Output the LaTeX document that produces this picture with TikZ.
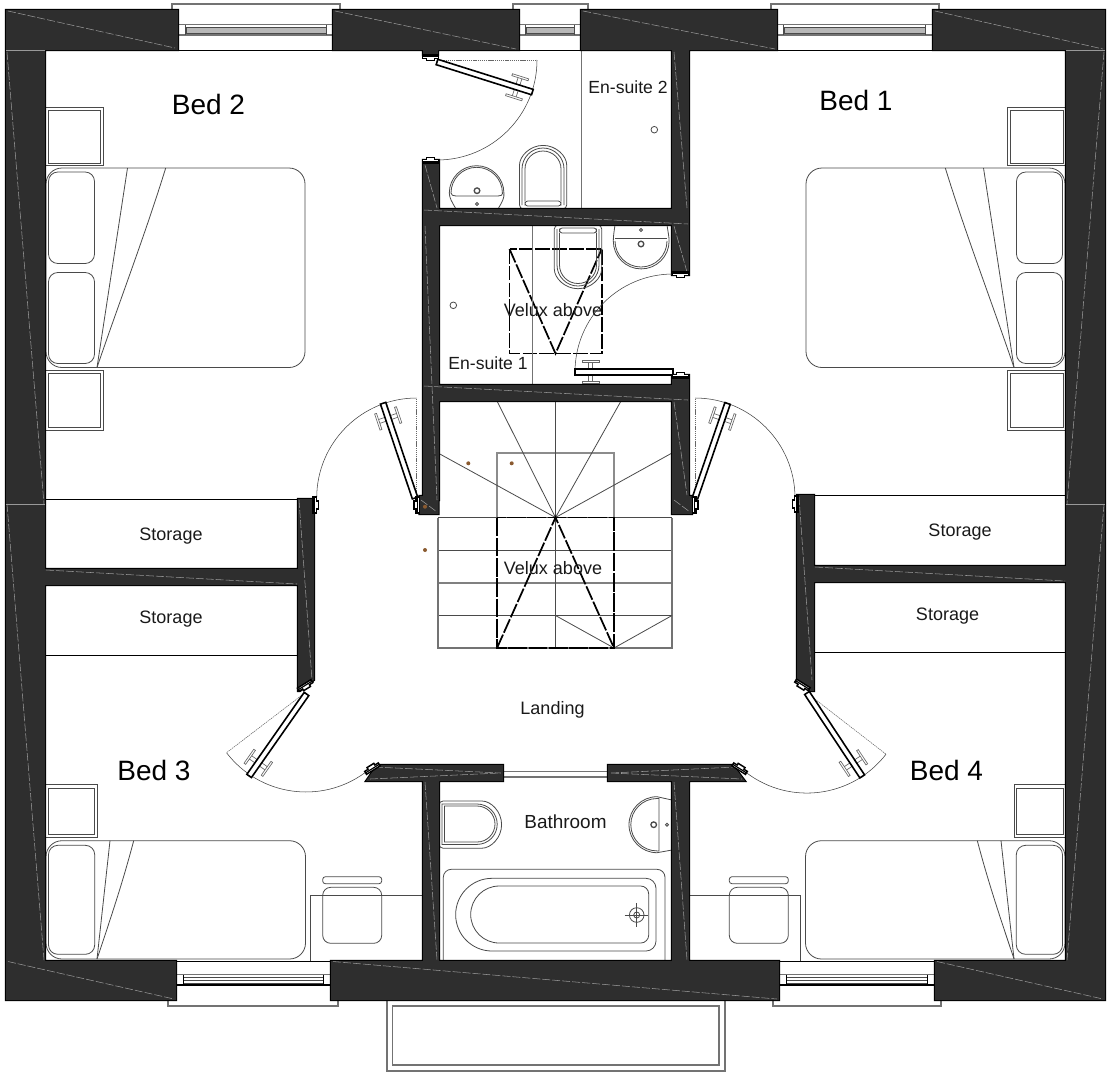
\documentclass[tikz,border=0pt]{standalone}
\usepackage{fontspec}
\setmainfont{Liberation Sans}
\definecolor{wallgrey}{HTML}{2E2E2E}
\definecolor{fixline}{HTML}{4A4A4A}
\definecolor{dotbrown}{HTML}{8A5A30}
\tikzset{every picture/.style={line width=0.75pt}}
\tikzset{
	fixture/.style={draw=fixline,line width=0.6},
	sillline/.style={draw=black!55,line width=0.8},
	seam/.style={draw=black!40,line width=0.4,dash pattern=on 6pt off 1.5pt},
	swing/.style={draw=black!75,line width=0.4},
	swingopen/.style={draw=black!60,line width=0.4,dash pattern=on 1pt off 0.6pt},
	velux/.style={draw=black,line width=1.3,dash pattern=on 11pt off 1.6pt},
	roomlabel/.style={font=\fontsize{21}{24}\selectfont,text=black},
	smalllabel/.style={font=\fontsize{13.5}{16}\selectfont,text=black!90},
	%door leaf drawn along +x from its hinge
	doorleaf/.pic={
		\draw [line width=0.5,draw=black!60,fill=white] (82,-9.5) rectangle (86,3) (75.5,-11.5) rectangle (92.5,-9.5) (82,3) rectangle (86,9.5) (75.5,9.5) rectangle (92.5,11.5);
		\draw [line width=1.2,fill=white] (0,-2.8) rectangle (100,2.8);
	},
	%door stop on a wall end
	jamb/.pic={
		\draw [line width=1.1,fill=white] (-8,-2.5) -- (8,-2.5) -- (8,1) -- (4,1) -- (4,3) -- (-4,3) -- (-4,1) -- (-8,1) -- cycle;
		\draw [line width=0.9] (-8,-0.7) -- (8,-0.7);
	},
	dblbed/.pic={
		\draw [fixture,rounded corners=12] (46,168) rectangle (305,367.5);
		\draw [fixture,rounded corners=7] (48.5,172) rectangle (94.5,263.5);
		\draw [fixture,rounded corners=7] (48.5,272.5) rectangle (94.5,363.5);
		\draw [fixture] (127.5,168) -- (97,367.5);
		\draw [fixture] (165.7,168) .. controls (145,235) and (120,300) .. (97,367.5);
		\draw [fixture] (45,107) rectangle (103.7,165.7);
		\draw [fixture] (48,110) rectangle (100.7,163);
		\draw [fixture] (45,370.5) rectangle (103.7,430);
		\draw [fixture] (48,373.5) rectangle (100.7,427);
	},
	sglbed/.pic={
		\draw [fixture] (310.7,961) -- (310.7,895.3) -- (422,895.3);
		\draw [fixture,rounded corners=12] (46,840.7) rectangle (305.5,959);
		\draw [fixture,rounded corners=7] (48.5,845.3) rectangle (94.7,954.3);
		\draw [fixture] (110,840.7) -- (97,959);
		\draw [fixture] (133.7,840.7) .. controls (122,885) and (110,920) .. (97,959);
		\draw [fixture] (45,784.7) rectangle (97,837.3);
		\draw [fixture] (48,788) rectangle (94.3,834);
		\draw [fixture,rounded corners=6] (322.7,887.3) rectangle (381.7,943.3);
		\draw [fixture,rounded corners=2] (322.7,876.7) rectangle (381.7,883.7);
	},
}

\begin{document}
\begin{tikzpicture}[x=0.75pt,y=0.75pt,yscale=-1,xscale=1]
	\useasboundingbox (0,0) rectangle (1112,1072);

	%Beds and desks
	\pic[transform shape] at (0,0) {dblbed};
	\pic[transform shape] at (0,0) {sglbed};
	\begin{scope}[shift={(1111,0)},xscale=-1]
		\pic[transform shape] at (0,0) {dblbed};
		\pic[transform shape] at (0,0) {sglbed};
	\end{scope}

	%Stairs
	\draw [fixture,draw=black!45,line width=0.9] (497,517.5) -- (497,453) -- (614,453) -- (614,517.5);
	\draw [fixture] (438,517.5) -- (672,517.5) (438,550) -- (672,550) (438,615.5) -- (672,615.5);
	\draw [fixture,draw=black!50,line width=0.9] (438,583) -- (672,583);
	\draw [fixture,draw=black!55,line width=0.8] (438,517.5) -- (438,648) -- (672,648) -- (672,517.5);
	\draw [fixture] (555.5,401) -- (555.5,648);
	\draw [fixture] (497,401) -- (555.5,517.5) -- (621,401) (438,453) -- (555.5,517.5) -- (672,453);
	\draw [fixture] (555.5,615.5) -- (614,648) -- (672,615.5);

	%Velux outlines
	\draw [velux,dash pattern=on 14pt off 1.2pt] (497,517.5) rectangle (614,648);
	\draw [velux] (497,648) -- (555.5,517.5) -- (614,648);
	\draw [velux] (509.5,249) rectangle (601.7,353.5);
	\draw [velux] (509.5,249) -- (555.5,353.5) -- (601.7,249);

	%En-suite partitions and shower wastes
	\draw [fixture,draw=black!55] (581.7,50) -- (581.7,209);
	\draw [fixture,draw=black!55] (532,225) -- (532,385);
	\draw [fixture] (654.3,129.7) circle (3.3);
	\draw [fixture] (453.3,305.3) circle (3.3);

	%En-suite 2 basin and wc
	\draw [fixture] (456,209) .. controls (452,202) and (449.3,198) .. (449.3,193) arc[start angle=180,end angle=360,radius=27.3] .. controls (504.6,198) and (502,202) .. (498,209);
	\draw [fixture] (451,193) arc[start angle=180,end angle=360,radius=25.7];
	\draw [fixture] (451,193) .. controls (451,195) and (453,196) .. (456,196) -- (498,196) .. controls (501,196) and (502.7,195) .. (502.7,193);
	\draw [fixture,line width=1] (477,190.7) circle (2.8);
	\draw [fixture] (477,204) circle (1.5);
	\draw [fixture,rounded corners=3] (519.5,209) -- (519.5,169) arc[start angle=180,end angle=360,radius=23.6] -- (566.7,209) -- cycle;
	\draw [fixture] (522,205) -- (522,169) arc[start angle=180,end angle=360,radius=21] -- (564,205);
	\draw [fixture,rounded corners=2] (525,201) rectangle (561,206) ;
	\draw [fixture] (525,201) -- (525,169) arc[start angle=180,end angle=360,radius=18] -- (561,201);

	%En-suite 1 basin and wc
	\draw [fixture] (615,225) .. controls (614,232) and (613.3,236) .. (613.3,241) arc[start angle=180,end angle=0,radius=27.9] .. controls (669,236) and (668,232) .. (667,225);
	\draw [fixture] (615,241) arc[start angle=180,end angle=0,radius=26];
	\draw [fixture] (615,238) -- (667,238);
	\draw [fixture,line width=1] (641,244) circle (2.8);
	\draw [fixture] (641,230) circle (1.5);
	\draw [fixture,rounded corners=3] (554.3,225) -- (554.3,265) arc[start angle=180,end angle=0,radius=23.7] -- (601.7,225) -- cycle;
	\draw [fixture] (557,229) -- (557,265) arc[start angle=180,end angle=0,radius=21] -- (599,229);
	\draw [fixture,rounded corners=2] (559.5,228) rectangle (596.5,233);
	\draw [fixture] (559.5,233) -- (559.5,265) arc[start angle=180,end angle=0,radius=18.5] -- (596.5,233);

	%Bathroom wc
	\draw [fixture,rounded corners=3] (439,801) -- (478,801) arc[start angle=-90,end angle=90,radius=23.6] -- (439,848.2) -- cycle;
	\draw [fixture] (442,804) -- (477,804) arc[start angle=-90,end angle=90,radius=20.2] -- (442,844.4) -- cycle;
	\draw [fixture] (444.5,806) -- (477,806) arc[start angle=-90,end angle=90,radius=18] -- (444.5,842) -- cycle;

	%Bathroom basin
	\draw [fixture] (672,800) -- (657,796.7) arc[start angle=270,end angle=90,radius=28] -- (672,850);
	\draw [fixture] (659,798.5) -- (657,798.5) arc[start angle=270,end angle=90,radius=26.2] -- (659,850.9) -- cycle;
	\draw [fixture,line width=1] (653.7,824.7) circle (2.8);
	\draw [fixture] (667,824.7) circle (1.5);

	%Bath
	\draw [fixture,rounded corners=6] (443.3,961) -- (443.3,869.3) -- (665,869.3) -- (665,961);
	\draw [fixture] (492,878.3) -- (646,878.3) arc[start angle=-90,end angle=0,radius=10] -- (656,941) arc[start angle=0,end angle=90,radius=10] -- (492,951) arc[start angle=90,end angle=270,radius=36.35] -- cycle;
	\draw [fixture] (499.2,886) -- (640.7,886) arc[start angle=-90,end angle=0,radius=8] -- (648.7,935) arc[start angle=0,end angle=90,radius=8] -- (499.2,943) arc[start angle=90,end angle=270,radius=28.5] -- cycle;
	\draw [fixture] (636.7,915) circle (7.3) circle (3);
	\draw [fixture] (624.5,915) -- (648,915) (636.7,903) -- (636.7,927);

	%Balcony
	\draw [sillline] (387,1000) -- (387,1071) -- (725,1071) -- (725,1000);
	\draw [sillline] (392.5,1006) rectangle (719,1065);

	%Top windows
	\draw [sillline] (172,10) -- (172,4) -- (340,4) -- (340,10);
	\draw [sillline] (178,24.5) -- (333,24.5) (178,35) -- (333,35);
	\draw [fixture,fill=black!28] (186,27) rectangle (326,33.5);
	\draw [fixture] (185.5,24.5) -- (185.5,35) (326.5,24.5) -- (326.5,35);
	\draw [sillline] (513,10) -- (513,4) -- (588,4) -- (588,10);
	\draw [sillline] (519,24.5) -- (581,24.5) (519,35) -- (581,35);
	\draw [fixture,fill=black!28] (526,27) rectangle (574,33.5);
	\draw [fixture] (525.5,24.5) -- (525.5,35) (574.5,24.5) -- (574.5,35);
	\draw [sillline] (771,10) -- (771,4) -- (939,4) -- (939,10);
	\draw [sillline] (777,24.5) -- (933,24.5) (777,35) -- (933,35);
	\draw [fixture,fill=black!28] (784,27) rectangle (925,33.5);
	\draw [fixture] (783.5,24.5) -- (783.5,35) (925.5,24.5) -- (925.5,35);
	\draw [black,line width=0.6] (178,50) -- (333,50) (519,50) -- (581,50) (777,50) -- (933,50);

	%Bottom windows
	\draw [sillline] (168,1000) -- (168,1006) -- (338,1006) -- (338,1000);
	\draw [sillline] (176,974.5) -- (331,974.5);
	\draw [black,line width=1] (176,985) -- (331,985);
	\draw [fixture] (183,977.5) -- (324,977.5) (183,980.5) -- (324,980.5) (183,983) -- (324,983);
	\draw [black,line width=0.8] (183.5,974.5) -- (183.5,985) (323.5,974.5) -- (323.5,985);
	\draw [sillline] (773,1000) -- (773,1006) -- (941,1006) -- (941,1000);
	\draw [sillline] (779,974.5) -- (935,974.5);
	\draw [black,line width=1] (779,985) -- (935,985);
	\draw [fixture] (786,977.5) -- (928,977.5) (786,980.5) -- (928,980.5) (786,983) -- (928,983);
	\draw [black,line width=0.8] (786.5,974.5) -- (786.5,985) (927.5,974.5) -- (927.5,985);
	\draw [black,line width=0.6] (176,961) -- (331,961) (779,961) -- (935,961);

	%Storage shelves lines and landing opening
	\draw [fixture,draw=black] (45,499) -- (298,499) (45,655) -- (298,655);
	\draw [fixture,draw=black] (814,495) -- (1066,495) (814,652) -- (1066,652);
	\draw [sillline] (503,771.7) -- (608,771.7) (503,777) -- (608,777);

	%Walls, outlined first and filled over so that they merge
	\draw [black,line width=1.6,fill=wallgrey] (6,10) rectangle (178,50) (333,10) rectangle (519,50) (581,10) rectangle (777,50) (933,10) rectangle (1105,50) (6,50) rectangle (45,961) (1066,50) rectangle (1105,961) (6,961) rectangle (176,1000) (331,961) rectangle (779,1000) (935,961) rectangle (1105,1000) (423,50) rectangle (438,55) (672,50) rectangle (689,275) (423,209) rectangle (689,225) (423,160) rectangle (439,500) (419.5,496) rectangle (438.5,514) (672,375) rectangle (689,500) (672,496) rectangle (692,514) (423,385) rectangle (689,401) (298,499) -- (314,499) -- (314,680) -- (300,691) -- (298,691) -- cycle (45,569) rectangle (298,585) (797,495) -- (814,495) -- (814,691) -- (810,691) -- (797,681) -- cycle (814,566) rectangle (1066,582) (377,765) -- (503,765) -- (503,781) -- (366,781) -- cycle (608,765) -- (733,765) -- (745,781) -- (608,781) -- cycle (423,781) rectangle (439,961) (672,781) rectangle (689,961);
	\fill [wallgrey] (6,10) rectangle (178,50) (333,10) rectangle (519,50) (581,10) rectangle (777,50) (933,10) rectangle (1105,50) (6,50) rectangle (45,961) (1066,50) rectangle (1105,961) (6,961) rectangle (176,1000) (331,961) rectangle (779,1000) (935,961) rectangle (1105,1000) (423,50) rectangle (438,55) (672,50) rectangle (689,275) (423,209) rectangle (689,225) (423,160) rectangle (439,500) (419.5,496) rectangle (438.5,514) (672,375) rectangle (689,500) (672,496) rectangle (692,514) (423,385) rectangle (689,401) (298,499) -- (314,499) -- (314,680) -- (300,691) -- (298,691) -- cycle (45,569) rectangle (298,585) (797,495) -- (814,495) -- (814,691) -- (810,691) -- (797,681) -- cycle (814,566) rectangle (1066,582) (377,765) -- (503,765) -- (503,781) -- (366,781) -- cycle (608,765) -- (733,765) -- (745,781) -- (608,781) -- cycle (423,781) rectangle (439,961) (672,781) rectangle (689,961);

	%Seams in the walls
	\draw [seam] (8,11) -- (175,48) (335,11) -- (516,49) (583,11) -- (775,49) (935,11) -- (1103,49);
	\draw [seam] (8,961.5) -- (174,999) (333,961.5) -- (777,999) (937,961.5) -- (1103,999);
	\draw [seam] (7,52) -- (44,504) (7,504) -- (44,960) (1104,52) -- (1067,504) (1104,504) -- (1067,960);
	\draw [black!40,line width=0.4] (6,50) -- (45,50) (1066,50) -- (1105,50) (6,504) -- (45,504) (1066,504) -- (1105,504);
	\draw [seam] (425,165) -- (437,208) (425,226) -- (437,500) (674,52) -- (687,208) (674,226) -- (687,272) (674,402) -- (687,495);
	\draw [seam] (424,210) -- (688,224) (424,386) -- (688,400);
	\draw [seam] (299,500) -- (312,680) (799,497) -- (812,680) (46,570) -- (297,584) (815,567) -- (1065,581);
	\draw [seam] (375,767) -- (501,773) (370,779) -- (500,773) (611,773) -- (735,767) (611,773) -- (742,779);
	\draw [seam] (425,782) -- (437,960) (674,782) -- (687,960);
	\draw [seam] (421,500) -- (437,512) (674,500) -- (690,512);

	%Door swings
	\draw [swingopen] (437,60) -- (537,60);
	\draw [swing] (537,60) arc[start angle=0,end angle=90,radius=100];
	\draw [swing] (575,372) arc[start angle=180,end angle=270,radius=98];
	\draw [swingopen] (416.7,498) -- (416.7,398);
	\draw [swing] (416.7,398) arc[start angle=270,end angle=180,radius=100];
	\draw [swingopen] (695,498) -- (695,398);
	\draw [swing] (695,398) arc[start angle=270,end angle=360,radius=100];
	\draw [swingopen] (306,692) -- (226.5,752.7);
	\draw [swing] (226.5,752.7) arc[start angle=142.6,end angle=54,radius=100];
	\draw [swingopen] (807,693) -- (886,754.2);
	\draw [swing] (886,754.2) arc[start angle=37.7,end angle=127,radius=100];

	%Door leaves
	\pic[transform shape,rotate=17.5] at (437,62) {doorleaf};
	\pic[transform shape,rotate=180,scale=0.98] at (673,372) {doorleaf};
	\pic[transform shape,rotate=251.4] at (415,498) {doorleaf};
	\pic[transform shape,rotate=289] at (695,498) {doorleaf};
	\pic[transform shape,rotate=125] at (306.5,694) {doorleaf};
	\pic[transform shape,rotate=56.5] at (807,693) {doorleaf};

	%Door stops
	\pic[transform shape] at (430.5,57.5) {jamb};
	\pic[transform shape,rotate=180] at (430.5,160.5) {jamb};
	\pic[transform shape] at (680.5,274.5) {jamb};
	\pic[transform shape,rotate=180] at (680.5,375.5) {jamb};
	\pic[transform shape,rotate=90] at (417,505) {jamb};
	\pic[transform shape,rotate=-90] at (315.5,505) {jamb};
	\pic[transform shape,rotate=-90] at (695,505) {jamb};
	\pic[transform shape,rotate=90] at (795.5,504) {jamb};
	\pic[transform shape,rotate=-32] at (305.5,686) {jamb};
	\pic[transform shape,rotate=148] at (372,768) {jamb};
	\pic[transform shape,rotate=32] at (802,685.5) {jamb};
	\pic[transform shape,rotate=212] at (740,768) {jamb};

	%Fittings on the stair side
	\fill [dotbrown] (468.3,463.3) circle (2) (511.7,463.3) circle (2) (425,506.7) circle (2) (425,550) circle (2);

	% Text Node
	\draw (208.5,104.5) node[roomlabel] (bedtwo) {Bed 2};
	% Text Node
	\draw (856,100) node[roomlabel] (bedone) {Bed 1};
	% Text Node
	\draw (154,770) node[roomlabel] (bedthree) {Bed 3};
	% Text Node
	\draw (946.5,770) node[roomlabel] (bedfour) {Bed 4};
	% Text Node
	\draw (628,87) node[smalllabel,font=\fontsize{13.2}{16}\selectfont] (ensuitetwo) {En-suite 2};
	% Text Node
	\draw (488,363) node[smalllabel,font=\fontsize{13.2}{16}\selectfont] (ensuiteone) {En-suite 1};
	% Text Node
	\draw (553,310) node[smalllabel] (veluxupper) {Velux above};
	% Text Node
	\draw (553,568) node[smalllabel] (veluxlower) {Velux above};
	% Text Node
	\draw (171,536) node[smalllabel] (storagea) {Storage};
	% Text Node
	\draw (171,619.5) node[smalllabel] (storageb) {Storage};
	% Text Node
	\draw (960,532.5) node[smalllabel] (storagec) {Storage};
	% Text Node
	\draw (947.5,616) node[smalllabel] (storaged) {Storage};
	% Text Node
	\draw (552.5,710) node[smalllabel] (landing) {Landing};
	% Text Node
	\draw (565.5,822) node[smalllabel,font=\fontsize{14.2}{16}\selectfont] (bathroom) {Bathroom};
\end{tikzpicture}
\end{document}
